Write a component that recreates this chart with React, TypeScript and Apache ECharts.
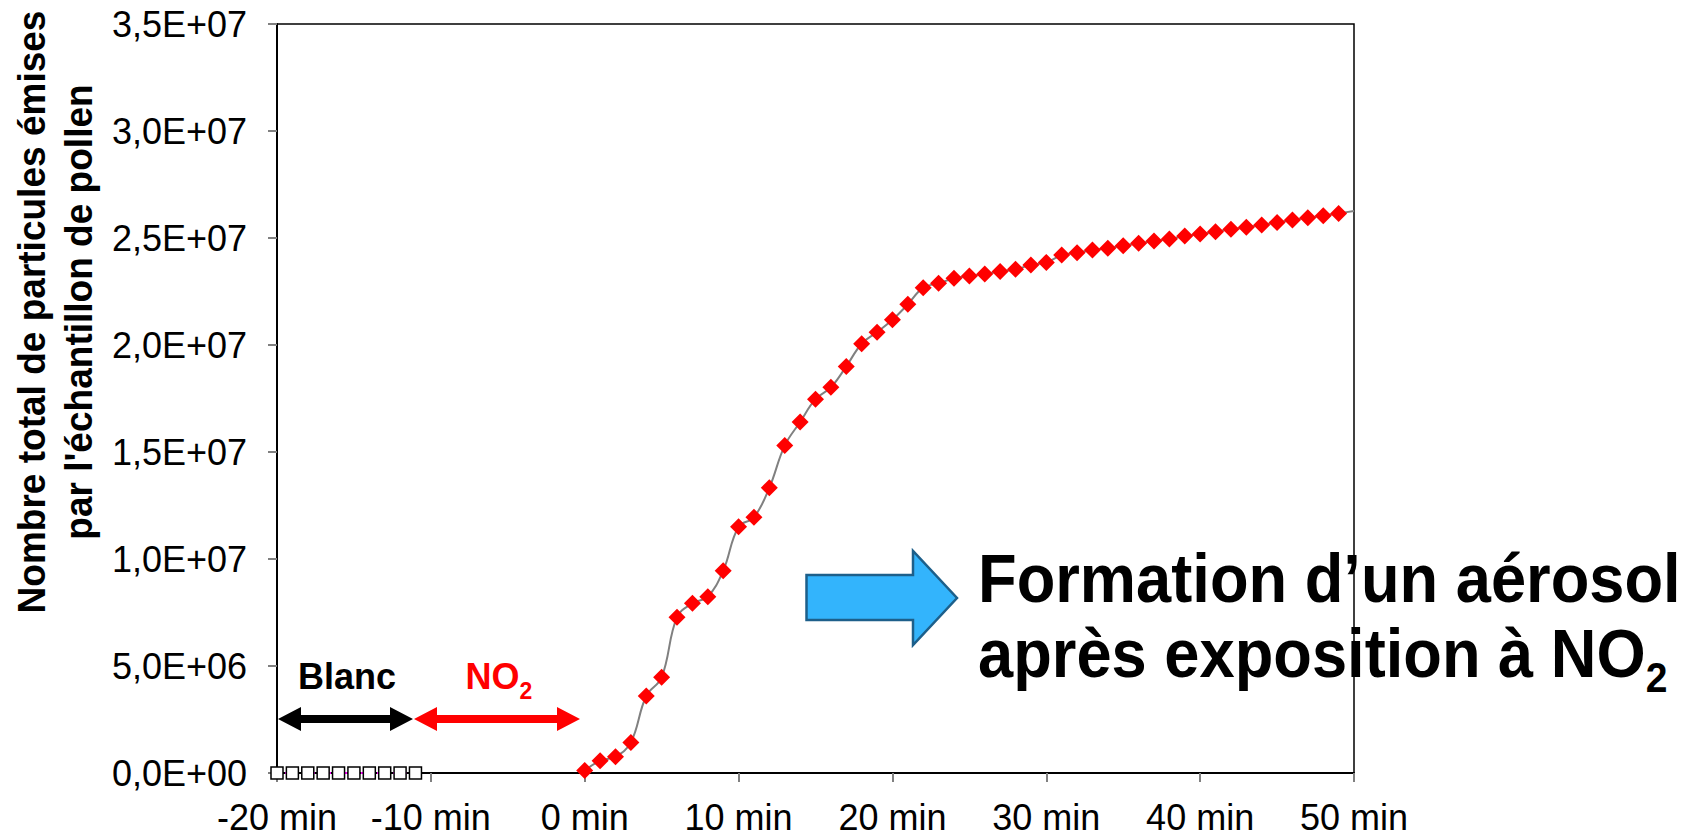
import React, { useEffect, useRef } from 'react';
import * as echarts from 'echarts';

// ---- data ----
const blankTimes = [-20, -19, -18, -17, -16, -15, -14, -13, -12, -11];
const blankValues = [0, 0, 0, 0, 0, 0, 0, 0, 0, 0];

const no2Times = [
  0, 1, 2, 3, 4, 5, 6, 7, 8, 9,
  10, 11, 12, 13, 14, 15, 16, 17, 18, 19,
  20, 21, 22, 23, 24, 25, 26, 27, 28, 29,
  30, 31, 32, 33, 34, 35, 36, 37, 38, 39,
  40, 41, 42, 43, 44, 45, 46, 47, 48, 49,
  50,
];
const no2Values = [
  0.12e6, 0.57e6, 0.76e6, 1.43e6, 3.6e6, 4.47e6, 7.28e6, 7.93e6, 8.24e6, 9.45e6,
  11.51e6, 11.95e6, 13.33e6, 15.3e6, 16.4e6, 17.47e6, 18.02e6, 19.0e6, 20.06e6, 20.6e6,
  21.18e6, 21.9e6, 22.68e6, 22.88e6, 23.12e6, 23.22e6, 23.32e6, 23.43e6, 23.54e6, 23.74e6,
  23.86e6, 24.2e6, 24.31e6, 24.44e6, 24.52e6, 24.64e6, 24.75e6, 24.86e6, 24.95e6, 25.09e6,
  25.19e6, 25.29e6, 25.41e6, 25.5e6, 25.61e6, 25.72e6, 25.84e6, 25.95e6, 26.04e6, 26.15e6,
  26.26e6,
];

const xMin = -20;
const xMax = 50;
const xStep = 10;
const yMin = 0;
const yMax = 3.5e7;
const yStep = 5e6;

const yTitleLines = ['Nombre total de particules émises', "par l'échantillon de pollen"];
const blancLabel = 'Blanc';
const no2Label = ['NO', '2'];
const messageLine1 = 'Formation d\u2019un aérosol';
const messageLine2 = ['après exposition à NO', '2'];

const FONT = '"Liberation Sans", Arial, Helvetica, sans-serif';

function sci(v: number): string {
  if (v === 0) return '0,0E+00';
  const e = Math.floor(Math.log10(v) + 1e-9);
  const m = v / Math.pow(10, e);
  return m.toFixed(1).replace('.', ',') + 'E+' + String(e).padStart(2, '0');
}

function doubleArrow(x0: number, x1: number, y: number, hl: number, hh: number, sh: number) {
  return [
    [x0, y], [x0 + hl, y - hh], [x0 + hl, y - sh], [x1 - hl, y - sh], [x1 - hl, y - hh],
    [x1, y], [x1 - hl, y + hh], [x1 - hl, y + sh], [x0 + hl, y + sh], [x0 + hl, y + hh],
  ];
}

export default function App() {
  const ref = useRef<HTMLDivElement>(null);

  useEffect(() => {
    if (!ref.current) return;
    const chart = echarts.init(ref.current, undefined, { renderer: 'svg' });

    const lastIdx = no2Times.length - 1;
    const no2Data = no2Times.map((t, i) =>
      i === lastIdx ? { value: [t, no2Values[i]], symbol: 'none' } : [t, no2Values[i]]
    );
    const blankData = blankTimes.map((t, i) => [t, blankValues[i]]);

    chart.setOption({
      animation: false,
      backgroundColor: '#fff',
      grid: {
        left: 277,
        right: 339,
        top: 24,
        bottom: 67,
        show: true,
        borderColor: '#000',
        borderWidth: 1.5,
        backgroundColor: 'transparent',
      },
      xAxis: {
        type: 'value',
        min: xMin,
        max: xMax,
        interval: xStep,
        axisLine: { show: true, onZero: false, lineStyle: { color: '#000', width: 2 } },
        axisTick: { show: true, inside: false, length: 9, lineStyle: { color: '#808080', width: 2 } },
        axisLabel: {
          formatter: (v: number) => `${v} min`,
          fontSize: 36,
          fontFamily: FONT,
          color: '#000',
          margin: 26,
        },
        splitLine: { show: false },
      },
      yAxis: {
        type: 'value',
        min: yMin,
        max: yMax,
        interval: yStep,
        axisLine: { show: true, onZero: false, lineStyle: { color: '#000', width: 2 } },
        axisTick: { show: true, inside: false, length: 9, lineStyle: { color: '#808080', width: 2 } },
        axisLabel: {
          formatter: (v: number) => sci(v),
          fontSize: 36,
          fontFamily: FONT,
          color: '#000',
          margin: 30,
          padding: [9, 0, 0, 0],
        },
        splitLine: { show: false },
      },
      series: [
        {
          name: 'Blanc',
          type: 'line',
          data: blankData,
          symbol: 'rect',
          symbolSize: 12,
          itemStyle: { color: '#fff', borderColor: '#000', borderWidth: 1.5 },
          lineStyle: { color: '#ff00ff', width: 2, type: 'dotted' },
          z: 4,
        },
        {
          name: 'NO2',
          type: 'line',
          data: no2Data,
          symbol: 'diamond',
          symbolSize: 17,
          smooth: 0.4,
          itemStyle: { color: '#ff0000' },
          lineStyle: { color: '#808080', width: 2 },
          z: 3,
        },
      ],
      graphic: [
        {
          type: 'text',
          x: 55,
          y: 312,
          rotation: Math.PI / 2,
          scaleX: 0.95,
          z: 100,
          style: {
            text: yTitleLines.join('\n'),
            fontSize: 39,
            fontWeight: 'bold',
            fontFamily: FONT,
            fill: '#000',
            lineHeight: 47,
            align: 'center',
            verticalAlign: 'middle',
            textAlign: 'center',
            textVerticalAlign: 'middle',
          },
        },
        {
          type: 'polygon',
          z: 100,
          shape: { points: doubleArrow(278, 413, 719, 23, 12, 4) },
          style: { fill: '#000' },
        },
        {
          type: 'polygon',
          z: 100,
          shape: { points: doubleArrow(414, 580, 719, 23, 12, 4) },
          style: { fill: '#ff0000' },
        },
        {
          type: 'text',
          x: 347,
          y: 676,
          z: 100,
          style: {
            text: blancLabel,
            fontSize: 36,
            fontWeight: 'bold',
            fontFamily: FONT,
            fill: '#000',
            align: 'center',
            verticalAlign: 'middle',
            textAlign: 'center',
            textVerticalAlign: 'middle',
          },
        },
        {
          type: 'text',
          x: 499,
          y: 676,
          z: 100,
          style: {
            text: `{n|${no2Label[0]}}{s|${no2Label[1]}}`,
            align: 'center',
            verticalAlign: 'middle',
            textAlign: 'center',
            textVerticalAlign: 'middle',
            rich: {
              n: { fontSize: 36, fontWeight: 'bold', fontFamily: FONT, fill: '#ff0000', color: '#ff0000', lineHeight: 52 },
              s: { fontSize: 23, fontWeight: 'bold', fontFamily: FONT, fill: '#ff0000', color: '#ff0000', lineHeight: 23, verticalAlign: 'bottom' },
            },
          },
        },
        {
          type: 'polygon',
          z: 100,
          shape: {
            points: [[806.5, 575], [913, 575], [913, 551], [957, 598], [913, 645], [913, 620], [806.5, 620]],
          },
          style: { fill: '#33B4FC', stroke: '#1D5F8A', lineWidth: 2.5 },
        },
        {
          type: 'text',
          x: 978,
          y: 579,
          scaleX: 0.93,
          z: 100,
          style: {
            text: messageLine1,
            fontSize: 68,
            fontWeight: 'bold',
            fontFamily: FONT,
            fill: '#000',
            align: 'left',
            verticalAlign: 'middle',
            textAlign: 'left',
            textVerticalAlign: 'middle',
          },
        },
        {
          type: 'text',
          x: 978,
          y: 654,
          scaleX: 0.93,
          z: 100,
          style: {
            text: `{n|${messageLine2[0]}}{s|${messageLine2[1]}}`,
            align: 'left',
            verticalAlign: 'middle',
            textAlign: 'left',
            textVerticalAlign: 'middle',
            rich: {
              n: { fontSize: 68, fontWeight: 'bold', fontFamily: FONT, fill: '#000', color: '#000', lineHeight: 88 },
              s: { fontSize: 42, fontWeight: 'bold', fontFamily: FONT, fill: '#000', color: '#000', lineHeight: 42, verticalAlign: 'bottom' },
            },
          },
        },
      ],
    });

    return () => {
      chart.dispose();
    };
  }, []);

  return (
    <div
      ref={ref}
      style={{ position: 'absolute', left: 0, top: 0, width: 1693, height: 840, background: '#fff' }}
    />
  );
}
